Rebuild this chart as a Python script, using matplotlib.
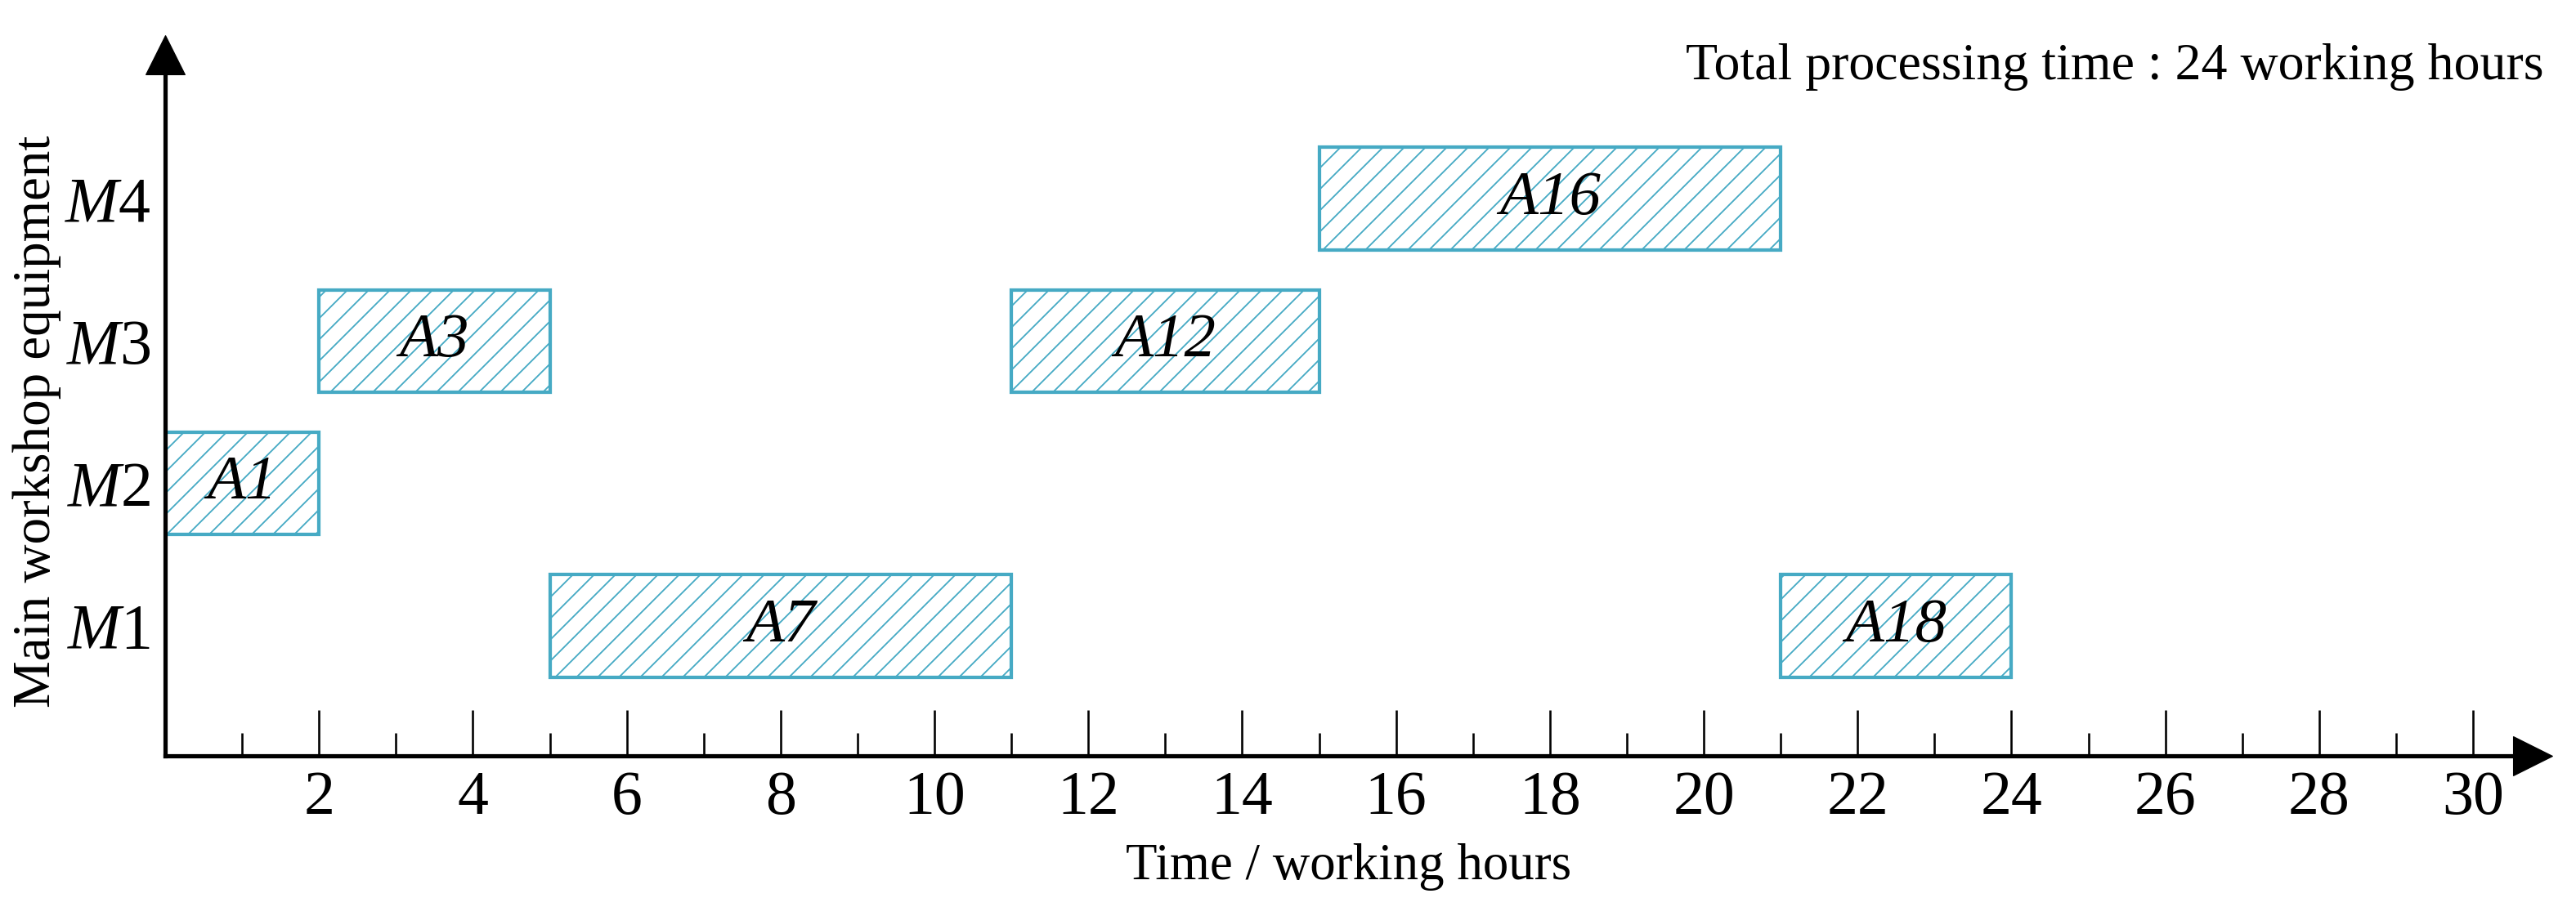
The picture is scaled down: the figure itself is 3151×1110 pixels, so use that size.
import matplotlib
matplotlib.use("Agg")
import matplotlib.pyplot as plt

# schedule
machines = ["M1", "M2", "M3", "M4"]
machine_pos = [1, 2, 3, 4]
tasks = ["A1", "A3", "A7", "A12", "A16", "A18"]
task_machine = [2, 3, 1, 3, 4, 1]
task_start = [0, 2, 5, 11, 15, 21]
task_duration = [2, 3, 6, 4, 6, 3]
major_ticks = [2, 4, 6, 8, 10, 12, 14, 16, 18, 20, 22, 24, 26, 28, 30]
minor_ticks = [1, 3, 5, 7, 9, 11, 13, 15, 17, 19, 21, 23, 25, 27, 29]
total_hours = 24

bar_color = "#46aac4"
DPI = 78

plt.rcParams["font.family"] = ["Liberation Serif", "DejaVu Serif"]
plt.rcParams["mathtext.fontset"] = "custom"
plt.rcParams["mathtext.rm"] = "Liberation Serif"
plt.rcParams["mathtext.it"] = "Liberation Serif:italic"
plt.rcParams["hatch.linewidth"] = 1.7
plt.rcParams["hatch.color"] = bar_color

fig = plt.figure(figsize=(3151 / DPI, 1110 / DPI), dpi=DPI)
ax = fig.add_axes([202 / 3151, 185 / 1110, (3098 - 202) / 3151, (925 - 67) / 1110])

ax.barh(task_machine, task_duration, left=task_start, height=0.72,
        color="white", edgecolor=bar_color, linewidth=3.9, hatch="/")
for name, m, s, d in zip(tasks, task_machine, task_start, task_duration):
    ax.text(s + d / 2, m, name, ha="center", va="center", fontsize=71,
            style="italic")

ax.set_xlim(0, (3098 - 202) / 94.1)
ax.set_ylim(0.088, 5.01)

for side in ["top", "right"]:
    ax.spines[side].set_visible(False)
for side in ["left", "bottom"]:
    ax.spines[side].set_linewidth(4.8)

# arrow heads on the axes
ax.plot(1, 0, ">k", ms=44, transform=ax.transAxes, clip_on=False)
ax.plot(0, 1, "^k", ms=44, transform=ax.transAxes, clip_on=False)

ax.set_xticks(major_ticks)
ax.set_xticklabels([str(t) for t in major_ticks])
ax.set_xticks(minor_ticks, minor=True)
ax.tick_params(axis="x", which="major", direction="in", length=52, width=2.4,
               labelsize=70, pad=17)
ax.tick_params(axis="x", which="minor", direction="in", length=26, width=2.4)

ax.set_yticks(machine_pos)
ax.set_yticklabels(["$M$" + m[1:] for m in machines])
ax.tick_params(axis="y", length=0, labelsize=72, pad=16)

ax.set_xlabel("Time / working hours", fontsize=58, labelpad=18)
ax.set_ylabel("Main workshop equipment", fontsize=60)
ax.yaxis.set_label_coords(-0.044, 0.477)

fig.text(3111 / 3151, 1 - 97 / 1110,
         f"Total processing time : {total_hours} working hours",
         ha="right", va="baseline", fontsize=59)

fig.savefig("out.png", dpi=DPI, facecolor="white")
